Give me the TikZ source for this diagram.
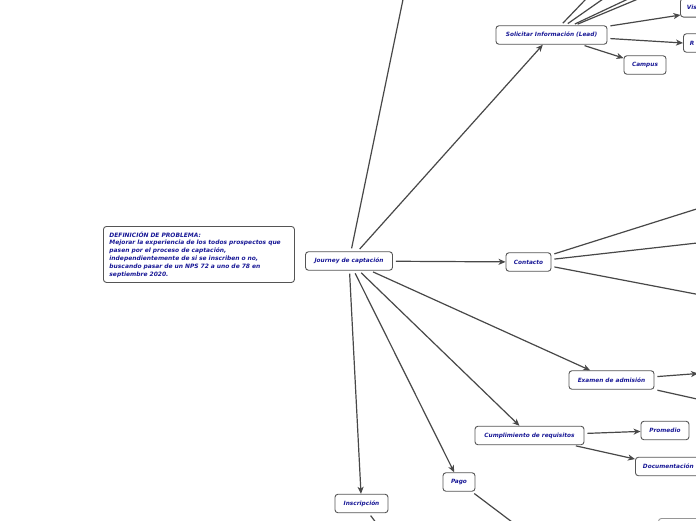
\documentclass[tikz,border=0pt]{standalone}
\usepackage{fontspec}
\setmainfont{DejaVu Sans}
\usetikzlibrary{arrows.meta,calc}
\definecolor{txtblue}{RGB}{24,24,150}
\definecolor{bordergrey}{RGB}{85,85,85}
\definecolor{linegrey}{RGB}{72,72,72}
\definecolor{lightborder}{RGB}{150,150,150}
\tikzset{
  mm/.style={draw=bordergrey, line width=0.9pt, rounded corners=3pt, fill=white, text=txtblue,
    font=\fontsize{5.8}{7}\selectfont\bfseries\itshape, minimum height=18.5pt, inner xsep=3pt, inner ysep=2pt},
  conn/.style={draw=linegrey, line width=1.2pt, shorten <=3pt},
  arr/.style={conn, -{Stealth[length=7pt,width=6pt,inset=2pt]}},
}
\begin{document}
\begin{tikzpicture}[x=1pt,y=-1pt]
\useasboundingbox (0,0) rectangle (696,520);
\clip (0,0) rectangle (696,520);
\fill[white] (0,0) rectangle (696,520);

% nodes
\node[mm, anchor=north west, text width=179pt, align=left, minimum height=56pt, inner xsep=6pt, inner ysep=4pt,
  font=\fontsize{5.95}{7.8}\selectfont\bfseries\itshape] (prob) at (103,226)
  {DEFINICIÓN DE PROBLEMA:\\
   Mejorar la experiencia de los todos prospectos que\\
   pasen por el proceso de captación,\\
   independientemente de si se inscriben o no,\\
   buscando pasar de un NPS 72 a uno de 78 en\\
   septiembre 2020.};
\node[mm, minimum width=87pt] (j) at (349,261) {Journey de captación};
\node[mm, minimum width=111pt] (sol) at (551.5,35) {Solicitar Información (Lead)};
\node[mm, minimum width=42pt] (campus) at (645,65) {Campus};
\node[mm, anchor=south west, minimum width=40pt, text width=28pt, align=left, inner xsep=6.5pt] (vis) at (680,17.5) {Vis};
\node[mm, anchor=west, minimum width=40pt, text width=28pt, align=left, inner xsep=6.5pt] (r) at (683,43) {R};
\node[mm, minimum width=45pt] (con) at (528.5,262) {Contacto};
\node[mm, minimum width=85pt] (ex) at (611.5,380) {Examen de admisión};
\node[mm, minimum width=109pt] (cum) at (529.5,435.5) {Cumplimiento de requisitos};
\node[mm, minimum width=48pt] (prom) at (665,430.5) {Promedio};
\node[mm, anchor=west, inner xsep=7.5pt] (doc) at (635,466.5) {Documentación};
\node[mm, minimum width=32pt] (pago) at (459,482) {Pago};
\node[mm, minimum width=53pt] (ins) at (361.5,503.5) {Inscripción};
\node[mm, draw=lightborder, anchor=north west, minimum width=60pt] (br) at (658,518) {};

% free ends
\coordinate (jt) at (406,-15);
\coordinate (s1) at (586,-1);
\coordinate (s2) at (603,-1);
\coordinate (s3) at (628,-1);
\coordinate (s4) at (638,-1);
\coordinate (k1) at (706,206);
\coordinate (k2) at (706,242);
\coordinate (k3) at (706,296);
\coordinate (ex1) at (698,373.5);
\coordinate (ex2) at (706,401);
\coordinate (pg1) at (520,528);
\coordinate (ins1) at (380,528);
\coordinate (vistip) at ($(vis.south west)+(0.5,-2.5)$);

% connectors
\draw[conn] (j) -- (jt);
\draw[arr] (j) -- (sol);
\draw[arr] (j) -- (con);
\draw[arr] (j) -- (ex);
\draw[arr] (j) -- (cum);
\draw[arr] (j) -- (pago);
\draw[arr] (j) -- (ins);

\draw[conn] (sol) -- (s1);
\draw[conn] (sol) -- (s2);
\draw[conn] (sol) -- (s3);
\draw[conn] (sol) -- (s4);
\draw[arr] (sol) -- (vistip);
\draw[arr] (sol) -- (r.west);
\draw[arr] (sol) -- (campus);

\draw[conn] (con) -- (k1);
\draw[conn] (con) -- (k2);
\draw[conn] (con) -- (k3);

\draw[arr] (ex) -- (ex1);
\draw[conn] (ex) -- (ex2);

\draw[arr] (cum) -- (prom);
\draw[arr] (cum) -- (doc);

\draw[conn] (pago) -- (pg1);
\draw[conn] (ins) -- (ins1);
\end{tikzpicture}
\end{document}
